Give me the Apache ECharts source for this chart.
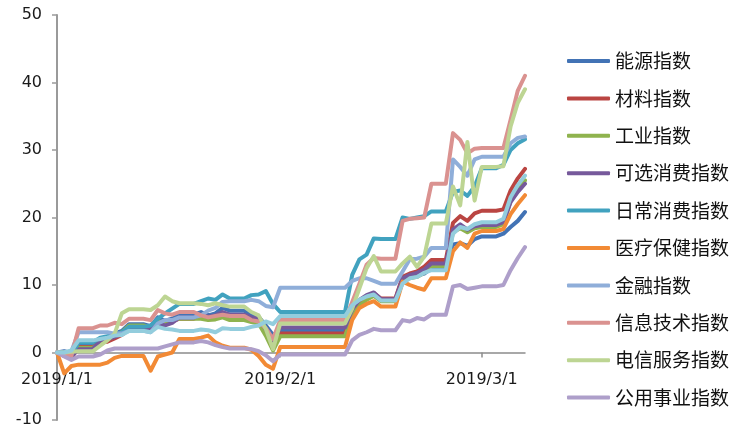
<!DOCTYPE html>
<html>
<head>
<meta charset="utf-8">
<script src="https://cdn.jsdelivr.net/npm/echarts@6/dist/echarts.min.js"></script>
<style>
html,body{margin:0;padding:0;background:#fff;}
#c{width:745px;height:438px;}
</style>
</head>
<body>
<div id="c"></div>
<script>
// calendar days (weekends / holiday rows repeat the previous close, as in the source sheet)
const dates = [
'2019/1/1','2019/1/2','2019/1/3','2019/1/4','2019/1/5','2019/1/6','2019/1/7','2019/1/8','2019/1/9','2019/1/10',
'2019/1/11','2019/1/12','2019/1/13','2019/1/14','2019/1/15','2019/1/16','2019/1/17','2019/1/18','2019/1/19','2019/1/20',
'2019/1/21','2019/1/22','2019/1/23','2019/1/24','2019/1/25','2019/1/26','2019/1/27','2019/1/28','2019/1/29','2019/1/30','2019/1/31',
'2019/2/1','2019/2/2','2019/2/3','2019/2/4','2019/2/5','2019/2/6','2019/2/7','2019/2/8','2019/2/9','2019/2/10',
'2019/2/11','2019/2/12','2019/2/13','2019/2/14','2019/2/15','2019/2/16','2019/2/17','2019/2/18','2019/2/19','2019/2/20',
'2019/2/21','2019/2/22','2019/2/23','2019/2/24','2019/2/25','2019/2/26','2019/2/27','2019/2/28',
'2019/3/1','2019/3/2','2019/3/3','2019/3/4','2019/3/5','2019/3/6','2019/3/7'
];

const energy = [0,
 0.2,-0.1,1.2, 1.2,1.2,
 2.0,2.3,2.8,3.2,4.2, 4.2,4.2,
 3.9,5.2,4.7,5.0,5.6, 5.6,5.6,
 6.0,5.5,5.8,6.6,6.2, 6.2,6.2,
 5.6,5.3,4.0,2.6,3.2, 3.2,3.2,3.2,3.2,3.2,3.2,3.2,3.2,3.2,
 6.8,7.5,8.0,8.5,7.8, 7.8,7.8,
 10.7,11.2,11.4,11.7,12.5, 12.5,12.5,
 16.0,16.2,15.8,16.8,17.2, 17.2,17.2,
 17.6,18.6,19.5,20.8];

const materials = [0,
 -0.5,-0.8,0.8, 0.8,0.8,
 1.5,1.6,2.1,2.6,3.4, 3.4,3.4,
 3.2,4.5,4.2,4.6,5.0, 5.0,5.0,
 5.4,5.0,5.3,5.6,5.2, 5.2,5.2,
 5.0,4.8,3.0,1.0,2.8, 2.8,2.8,2.8,2.8,2.8,2.8,2.8,2.8,2.8,
 6.2,7.5,8.2,8.8,8.0, 8.0,8.0,
 11.2,11.7,12.0,12.7,13.7, 13.7,13.7,
 19.2,20.2,19.5,20.6,21.0, 21.0,21.0,
 21.2,24.0,25.8,27.2];

const industrials = [0,
 -0.3,-0.5,0.7, 0.7,0.7,
 1.6,2.0,2.5,3.0,4.0, 4.0,4.0,
 3.8,4.6,4.5,4.8,5.0, 5.0,5.0,
 5.0,4.8,4.9,5.2,4.8, 4.8,4.8,
 4.5,4.3,2.5,0.3,2.4, 2.4,2.4,2.4,2.4,2.4,2.4,2.4,2.4,2.4,
 5.6,7.0,7.8,8.4,7.6, 7.6,7.6,
 10.5,11.0,11.2,11.8,12.8, 12.8,12.8,
 17.8,18.4,17.8,18.4,18.6, 18.6,18.6,
 19.0,22.5,24.2,25.5];

const discretionary = [0,
 -0.4,-0.6,0.5, 0.5,0.5,
 1.8,2.0,2.3,2.8,3.6, 3.6,3.6,
 3.4,4.3,4.0,4.4,5.2, 5.2,5.2,
 5.6,5.3,5.5,6.0,5.6, 5.6,5.6,
 5.2,5.0,3.5,1.5,3.7, 3.7,3.7,3.7,3.7,3.7,3.7,3.7,3.7,3.7,
 6.4,7.8,8.5,8.9,7.9, 7.9,7.9,
 11.0,11.5,11.8,12.3,13.2, 13.2,13.2,
 18.2,19.0,18.2,18.7,18.9, 18.9,18.9,
 19.3,22.3,23.8,25.0];

const staples = [0,
 0,-0.3,1.5, 1.5,1.5,
 2.2,2.4,2.6,3.0,3.8, 3.8,3.8,
 4.0,5.0,5.8,6.5,7.2, 7.2,7.2,
 7.6,8.0,7.8,8.6,8.0, 8.0,8.0,
 8.5,8.6,9.1,7.2,6.0, 6.0,6.0,6.0,6.0,6.0,6.0,6.0,6.0,6.0,
 11.5,13.8,14.5,16.9,16.8, 16.8,16.8,
 20.0,19.8,20.0,20.2,20.9, 20.9,20.9,
 23.8,24.0,23.2,24.6,27.3, 27.3,27.3,
 27.8,30.0,31.0,31.6];

const health = [0,
 -3.1,-2.0,-1.8, -1.8,-1.8,
 -1.8,-1.5,-0.8,-0.5,-0.5, -0.5,-0.5,
 -2.7,-0.6,-0.3,0.0,2.0, 2.0,2.0,
 2.2,2.5,1.5,1.0,0.7, 0.7,0.7,
 0.4,-0.5,-1.8,-2.4,0.8, 0.8,0.8,0.8,0.8,0.8,0.8,0.8,0.8,0.8,
 4.8,6.6,7.2,7.6,6.8, 6.8,6.8,
 10.5,10.0,9.6,9.3,11.0, 11.0,11.0,
 15.0,16.3,15.5,17.6,18.0, 18.0,18.0,
 18.3,20.5,22.0,23.3];

const financials = [0,
 0,0.2,3.0, 3.0,3.0,
 3.0,3.0,2.8,2.8,3.2, 3.2,3.2,
 3.0,4.3,4.8,4.8,5.2, 5.2,5.2,
 5.5,6.2,6.6,7.5,7.6, 7.6,7.6,
 7.8,7.6,6.9,6.7,9.6, 9.6,9.6,9.6,9.6,9.6,9.6,9.6,9.6,9.6,
 10.6,11.0,11.0,10.6,10.2, 10.2,10.2,
 12.0,13.8,13.9,14.2,15.5, 15.5,15.5,
 28.6,27.5,26.2,28.6,29.0, 29.0,29.0,
 29.0,31.0,31.8,32.0];

const infotech = [0,
 -0.3,-0.5,3.6, 3.6,3.6,
 4.0,4.0,4.4,4.2,5.0, 5.0,5.0,
 4.8,6.3,5.8,5.6,6.0, 6.0,6.0,
 5.5,5.2,5.4,5.6,5.4, 5.4,5.4,
 4.8,4.6,3.6,2.0,4.8, 4.8,4.8,4.8,4.8,4.8,4.8,4.8,4.8,4.8,
 7.5,10.2,13.0,14.0,13.9, 13.9,13.9,
 19.5,19.8,19.9,20.0,25.0, 25.0,25.0,
 32.5,31.5,29.5,30.2,30.3, 30.3,30.3,
 30.3,34.5,38.8,41.0];

const telecom = [0,
 0,0.1,0.2, 0.2,0.2,
 1.0,1.8,2.8,5.8,6.4, 6.4,6.4,
 6.3,7.0,8.3,7.6,7.3, 7.3,7.3,
 7.2,7.0,7.3,7.0,6.8, 6.8,6.8,
 6.0,5.5,3.5,0.5,4.3, 4.3,4.3,4.3,4.3,4.3,4.3,4.3,4.3,4.3,
 6.5,9.5,12.5,14.3,12.0, 12.0,12.0,
 13.2,14.2,12.7,14.2,19.1, 19.1,19.1,
 24.6,21.8,31.2,22.5,27.5, 27.5,27.5,
 27.6,33.5,37.0,39.0];

const utilities = [0,
 -0.6,-1.1,-0.6, -0.6,-0.6,
 -0.3,0.3,0.6,0.6,0.6, 0.6,0.6,
 0.6,0.6,0.9,1.2,1.5, 1.5,1.5,
 1.7,1.5,1.1,0.8,0.6, 0.6,0.6,
 0.5,0.2,-0.4,-1.3,-0.3, -0.3,-0.3,-0.3,-0.3,-0.3,-0.3,-0.3,-0.3,-0.3,
 1.8,2.6,3.0,3.5,3.3, 3.3,3.3,
 4.8,4.6,5.1,4.9,5.6, 5.6,5.6,
 9.8,10.0,9.4,9.6,9.8, 9.8,9.8,
 10.0,12.2,14.0,15.6];

// extra unlabeled line visible in the chart (no legend entry)
const extraLine = [0,
 0,0.3,1.8, 1.8,1.8,
 2.0,2.2,2.5,2.6,3.2, 3.2,3.2,
 3.0,3.8,3.5,3.4,3.2, 3.2,3.2,
 3.4,3.3,3.0,3.6,3.5, 3.5,3.5,
 3.8,4.0,4.6,4.2,5.4, 5.4,5.4,5.4,5.4,5.4,5.4,5.4,5.4,5.4,
 7.0,7.8,8.3,8.6,7.7, 7.7,7.7,
 10.2,11.0,11.2,11.8,12.2, 12.2,12.2,
 17.6,18.6,18.3,19.0,19.3, 19.3,19.3,
 19.8,23.0,24.8,26.2];

const seriesNames = ['能源指数','材料指数','工业指数','可选消费指数','日常消费指数','医疗保健指数','金融指数','信息技术指数','电信服务指数','公用事业指数'];
const seriesValues = [energy, materials, industrials, discretionary, staples, health, financials, infotech, telecom, utilities];
const seriesColors = ['#4273B5','#BA4542','#8FB34E','#76599B','#41A2BF','#F28A35','#8FAED9','#DA9290','#BDD593','#AE9FCA'];
const extraColor = '#93CDDD';

const yMin = -10, yMax = 50, yStep = 10;
const gridTop = 15, gridBottom = 18;
const gridHeight = 438 - gridTop - gridBottom;
// move the category axis (line, ticks and labels) up to the zero level
const zeroOffset = -gridHeight * (0 - yMin) / (yMax - yMin);

const isMonthStart = (i, v) => String(v).split('/')[2] === '1';

const series = seriesNames.map((n, k) => ({
  name: n, type: 'line', data: seriesValues[k], symbol: 'none', showSymbol: false,
  lineStyle: { width: 4, color: seriesColors[k], cap: 'round', join: 'round' },
  itemStyle: { color: seriesColors[k] }, z: 2
}));
series.push({
  name: '其他', type: 'line', data: extraLine, symbol: 'none', showSymbol: false,
  lineStyle: { width: 4, color: extraColor, cap: 'round', join: 'round' },
  itemStyle: { color: extraColor }, z: 2
});

const chart = echarts.init(document.getElementById('c'), null, { renderer: 'canvas' });
chart.setOption({
  animation: false,
  backgroundColor: '#ffffff',
  grid: { left: 57, right: 220, top: gridTop, bottom: gridBottom, containLabel: false, outerBoundsMode: 'none' },
  xAxis: {
    type: 'category', data: dates, boundaryGap: false, offset: zeroOffset,
    axisLine: { onZero: false, lineStyle: { color: '#8c8c8c', width: 1.5 } },
    axisTick: { show: true, interval: isMonthStart, length: 5, lineStyle: { color: '#8c8c8c', width: 1.5 } },
    axisLabel: { interval: isMonthStart, margin: 19, color: '#1a1a1a', fontSize: 16, fontFamily: 'DejaVu Sans' },
    splitLine: { show: false }
  },
  yAxis: {
    type: 'value', min: yMin, max: yMax, interval: yStep,
    axisLine: { show: true, lineStyle: { color: '#9a9a9a', width: 2 } },
    axisTick: { show: true, length: 5, lineStyle: { color: '#9a9a9a', width: 1.5 } },
    axisLabel: { margin: 15, color: '#1a1a1a', fontSize: 16, fontFamily: 'DejaVu Sans' },
    splitLine: { show: false }
  },
  legend: {
    data: seriesNames, orient: 'vertical', left: 562, top: 46,
    icon: 'roundRect', itemWidth: 43, itemHeight: 4, itemGap: 17.4,
    textStyle: { fontFamily: 'Noto Sans CJK SC', fontSize: 19, lineHeight: 20, color: '#111' }
  },
  series: series
});
</script>
</body>
</html>
